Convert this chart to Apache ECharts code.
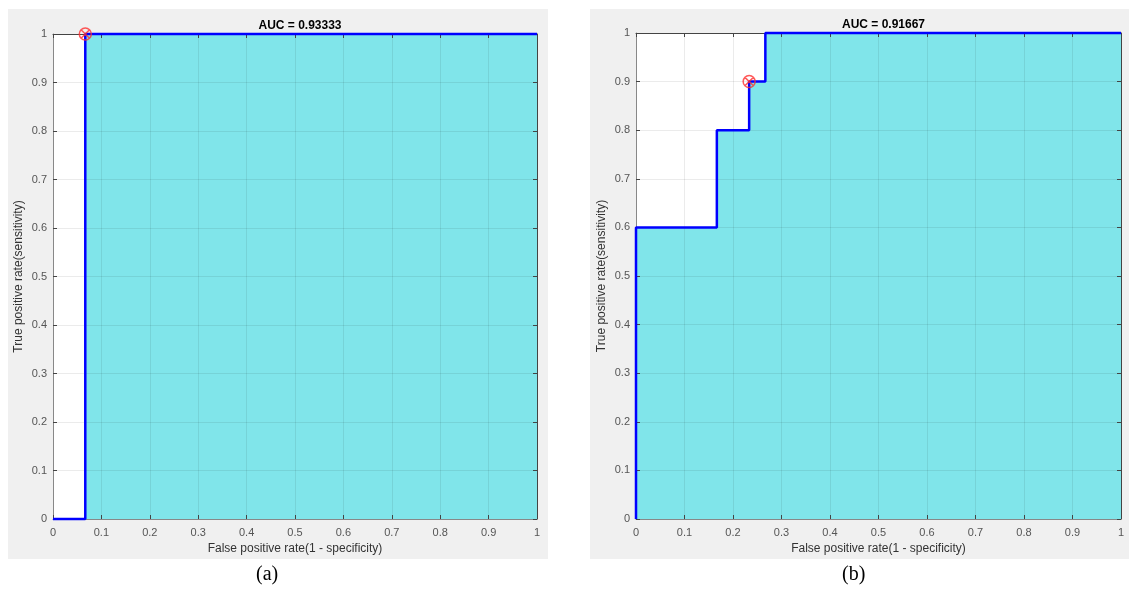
<!DOCTYPE html>
<html>
<head>
<meta charset="utf-8">
<script src="https://cdn.jsdelivr.net/npm/echarts@6/dist/echarts.min.js"></script>
<style>html,body{margin:0;padding:0;background:#fff;}#c{width:1129px;height:590px;}</style>
</head>
<body>
<div id="c"></div>
<script>
// ROC curve (a)
var fprA = [0, 0.0667, 0.0667, 1];
var tprA = [0, 0, 1, 1];
var optA = [0.0667, 1];
var titleA = 'AUC = 0.93333';
// ROC curve (b)
var fprB = [0, 0, 0.1667, 0.1667, 0.2333, 0.2333, 0.2667, 0.2667, 1];
var tprB = [0, 0.6, 0.6, 0.8, 0.8, 0.9, 0.9, 1, 1];
var optB = [0.2333, 0.9];
var titleB = 'AUC = 0.91667';
var panelLabels = ['(a)', '(b)'];
var xName = 'False positive rate(1 - specificity)';
var yName = 'True positive rate(sensitivity)';

function pairs(xs, ys){ return xs.map(function(x,i){ return [x, ys[i]]; }); }

var chart = echarts.init(document.getElementById('c'));
var grids = [
  {left:53, top:34, width:484, height:485},
  {left:636, top:33, width:485, height:486}
];
var markerPath = 'path://M0,-10A10,10 0 1,1 0,10A10,10 0 1,1 0,-10Z M-7.07,-7.07L7.07,7.07M-7.07,7.07L7.07,-7.07';

var xAxes = [], yAxes = [], series = [], titles = [];
[[fprA,tprA,optA,titleA],[fprB,tprB,optB,titleB]].forEach(function(d, i){
  var g = grids[i];
  xAxes.push({gridIndex:i, type:'value', min:0, max:1, interval:0.1, z:3, position:'bottom',
    name:xName, nameLocation:'middle', nameGap:24, nameTextStyle:{color:'#333', fontSize:12, fontFamily:'Liberation Sans, Arial'},
    axisLine:{show:true, lineStyle:{color:'#888', width:1}},
    axisTick:{show:true, inside:true, length:4, lineStyle:{color:'#444'}},
    axisLabel:{color:'#555', fontSize:11, margin:8, fontFamily:'Liberation Sans, Arial'},
    splitLine:{show:true, lineStyle:{color:'rgba(0,0,0,0.08)', width:1}}});
  yAxes.push({gridIndex:i, type:'value', min:0, max:1, interval:0.1, z:3, position:'left',
    name:yName, nameLocation:'middle', nameGap:28, nameTextStyle:{color:'#333', fontSize:12, fontFamily:'Liberation Sans, Arial'},
    axisLine:{show:true, lineStyle:{color:'#888', width:1}},
    axisTick:{show:true, inside:true, length:4, lineStyle:{color:'#444'}},
    axisLabel:{color:'#555', fontSize:11, margin:6, fontFamily:'Liberation Sans, Arial'},
    splitLine:{show:true, lineStyle:{color:'rgba(0,0,0,0.08)', width:1}}});
  xAxes.push({gridIndex:i, type:'value', min:0, max:1, interval:0.1, z:3, position:'top',
    axisLine:{show:true, onZero:false, lineStyle:{color:'#444', width:1}},
    axisTick:{show:true, inside:true, length:4, lineStyle:{color:'#444'}},
    axisLabel:{show:false}, splitLine:{show:false}});
  yAxes.push({gridIndex:i, type:'value', min:0, max:1, interval:0.1, z:3, position:'right',
    axisLine:{show:true, onZero:false, lineStyle:{color:'#444', width:1}},
    axisTick:{show:true, inside:true, length:4, lineStyle:{color:'#444'}},
    axisLabel:{show:false}, splitLine:{show:false}});
  var xi = i*2, yi = i*2;
  var pts = pairs(d[0], d[1]);
  series.push({type:'line', xAxisIndex:xi, yAxisIndex:yi, data:pts, showSymbol:false, z:1,
    lineStyle:{width:0}, areaStyle:{color:'#80E5EA', opacity:1, origin:'start'}, silent:true});
  series.push({type:'line', xAxisIndex:xi, yAxisIndex:yi, data:pts, showSymbol:false, z:5, clip:false,
    lineStyle:{color:'#0000FF', width:2.5}, silent:true});
  series.push({type:'scatter', xAxisIndex:xi, yAxisIndex:yi, data:[d[2]], z:6, symbol:markerPath, symbolSize:12,
    itemStyle:{color:'none', borderColor:'#FF3030', borderWidth:1.5}, silent:true});
  titles.push({text:d[3], left:g.left + g.width/2, top:g.top - 19, textAlign:'center',
    textStyle:{fontSize:12, fontWeight:'bold', color:'#000', fontFamily:'Liberation Sans, Arial'}});
});

chart.setOption({
  animation:false,
  backgroundColor:'#fff',
  title: titles,
  graphic: [
    {type:'rect', z:-10, shape:{x:8, y:9, width:540, height:550}, style:{fill:'#f0f0f0'}},
    {type:'rect', z:-10, shape:{x:590, y:9, width:539, height:550}, style:{fill:'#f0f0f0'}},
    {type:'text', left:256, top:565, style:{text:panelLabels[0], font:'20px "Liberation Serif", "Times New Roman", serif', fill:'#000'}},
    {type:'text', left:842, top:565, style:{text:panelLabels[1], font:'20px "Liberation Serif", "Times New Roman", serif', fill:'#000'}}
  ],
  grid: grids.map(function(g){ return {left:g.left, top:g.top, width:g.width, height:g.height, show:true, backgroundColor:'#fff', borderWidth:0, containLabel:false}; }),
  xAxis: xAxes,
  yAxis: yAxes,
  series: series
});
</script>
</body>
</html>
